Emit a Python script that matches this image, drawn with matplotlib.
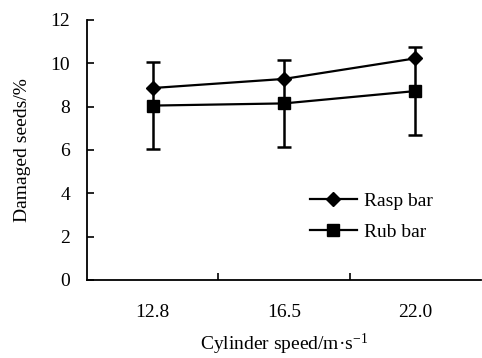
import matplotlib
matplotlib.use("Agg")
import matplotlib.pyplot as plt

categories = ["12.8", "16.5", "22.0"]
rasp = [8.86, 9.28, 10.23]
rub = [8.05, 8.15, 8.72]
rub_err = [2.0, 2.0, 2.03]
yticks = [0, 2, 4, 6, 8, 10, 12]

plt.rcParams['font.family'] = ['Liberation Serif', 'DejaVu Serif']
plt.rcParams['mathtext.fontset'] = 'custom'
plt.rcParams['mathtext.rm'] = 'Liberation Serif'
plt.rcParams['mathtext.it'] = 'Liberation Serif:italic'
plt.rcParams['mathtext.bf'] = 'Liberation Serif:bold'

fig = plt.figure(figsize=(4.82, 3.58), dpi=100)
ax = fig.add_axes([87/482, 1-280/358, 394/482, 260/358])

x = [i + 0.5 for i in range(len(categories))]
ax.errorbar(x, rub, yerr=rub_err, fmt='none', ecolor='black',
            elinewidth=1.8, capsize=5, capthick=1.8)
l1, = ax.plot(x, rasp, color='black', marker='D', markersize=7, lw=1.6, label='Rasp bar')
l2, = ax.plot(x, rub, color='black', marker='s', markersize=8, lw=1.6, label='Rub bar')

ax.set_xlim(0, 3)
ax.set_ylim(0, 12)
ax.set_yticks(yticks)
ax.set_xticks([1, 2])
ax.set_xticklabels([])
ax.set_xticks(x, minor=True)
ax.set_xticklabels(categories, minor=True, fontsize=14)
ax.tick_params(axis='x', which='minor', length=0, pad=17)
ax.tick_params(axis='x', which='major', direction='in', length=5, width=1.2)
ax.tick_params(axis='y', direction='in', length=5, width=1.2, labelsize=14, pad=12)
for s in ['top', 'right']:
    ax.spines[s].set_visible(False)
for s in ['left', 'bottom']:
    ax.spines[s].set_linewidth(1.3)

ax.set_ylabel('Damaged seeds/%', fontsize=14, labelpad=14)
ax.set_xlabel('Cylinder speed/m·s$^{-1}$', fontsize=14, labelpad=8)

leg = ax.legend(handles=[l1, l2], loc='center left', bbox_to_anchor=(0.566, 0.244),
                frameon=False, fontsize=14, handlelength=2.4, handletextpad=0.4,
                labelspacing=0.7, borderpad=0, borderaxespad=0)

fig.savefig('out.png', dpi=100)
